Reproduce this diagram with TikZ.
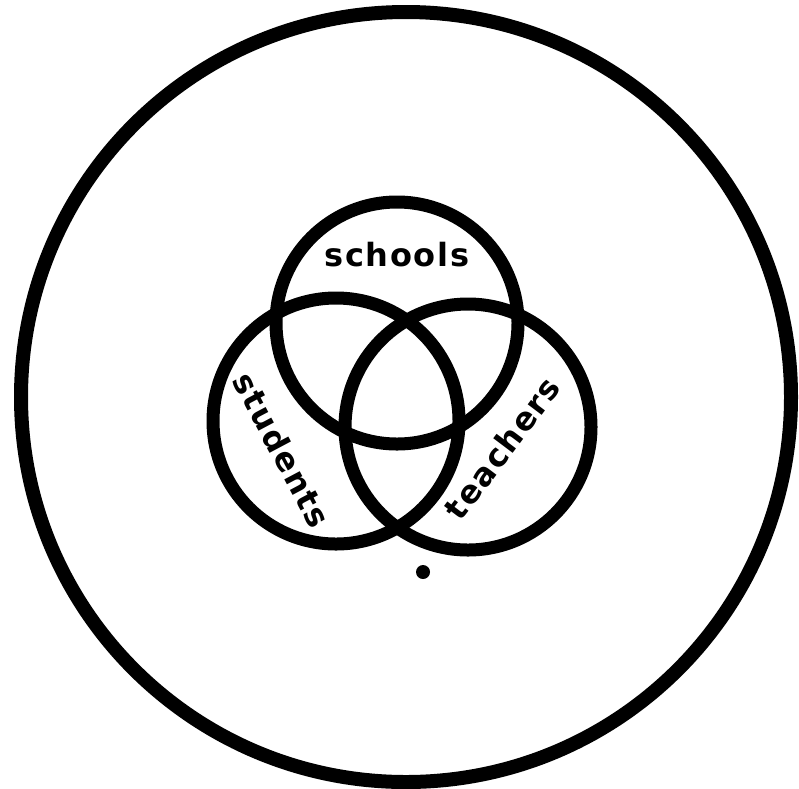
\documentclass[tikz,border=0pt]{standalone}
\usepackage{fontspec}
\setmainfont{DejaVu Sans}
\newfontfamily\labelfont[LetterSpace=5]{DejaVu Sans}
\usepackage{tikz}
\usetikzlibrary{positioning}

\begin{document}
\begin{tikzpicture}[
    x=1pt, y=-1pt,
    ring/.style={circle, draw=black, line width=#1, inner sep=0pt},
    ring/.default=13pt,
    setlabel/.style={font=\labelfont\bfseries\fontsize{32}{32}\selectfont,
                     inner sep=0pt, text=black},
    spot/.style={circle, fill=black, inner sep=0pt, minimum size=14pt}
]
\useasboundingbox (0,0) rectangle (799,788);

% Universe
\node[ring=14pt, minimum size=770pt] (world) at (406,397) {};

% Sets
\node[ring, minimum size=242pt] (schools) at (397,323) {};
\node[ring, minimum size=246pt] (students) at (336,421) {};
\node[ring, minimum size=246pt] (teachers) at (468,427) {};

% Labels
\node[setlabel] (schoolslbl) at (397,255) {schools};
\node[setlabel, rotate=-62] (studentslbl) at (282,450) {students};
\node[setlabel, rotate=53] (teacherslbl) at (502,448) {teachers};

% Point
\node[spot] (dot) at (423,572) {};

\end{tikzpicture}
\end{document}
